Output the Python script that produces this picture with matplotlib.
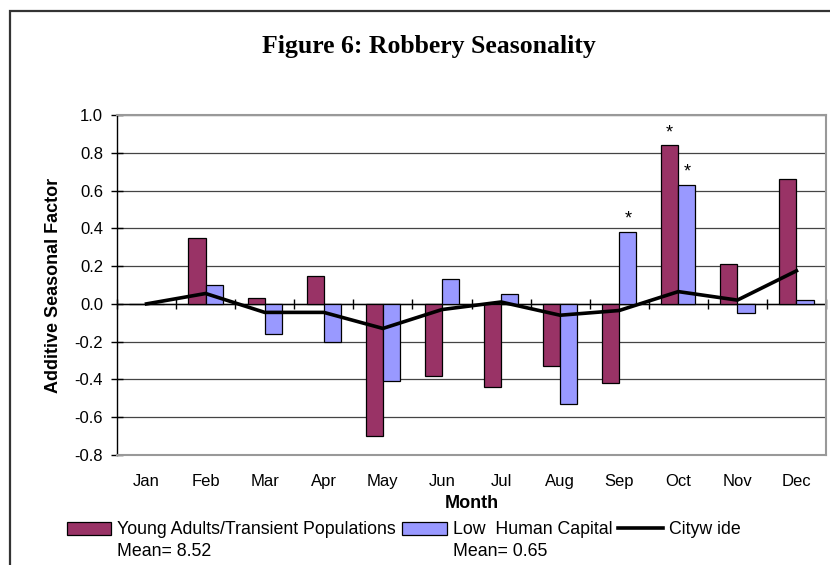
import numpy as np
import matplotlib
matplotlib.use('Agg')
from matplotlib import pyplot as plt
from matplotlib.patches import Patch, Rectangle
from matplotlib.lines import Line2D

plt.rcParams['font.family'] = ['Liberation Sans', 'DejaVu Sans']

months = ['Jan', 'Feb', 'Mar', 'Apr', 'May', 'Jun', 'Jul', 'Aug', 'Sep', 'Oct', 'Nov', 'Dec']
young_adults = [0.0, 0.35, 0.03, 0.15, -0.70, -0.38, -0.44, -0.33, -0.42, 0.84, 0.21, 0.66]
low_capital = [0.0, 0.10, -0.16, -0.20, -0.41, 0.13, 0.05, -0.53, 0.38, 0.63, -0.05, 0.02]
citywide = [0.0, 0.055, -0.045, -0.045, -0.13, -0.03, 0.01, -0.06, -0.035, 0.065, 0.02, 0.175]
yticks = [1.0, 0.8, 0.6, 0.4, 0.2, 0.0, -0.2, -0.4, -0.6, -0.8]
# (series, month index) pairs flagged with an asterisk
starred = [('low', 8), ('young', 9), ('low', 9)]
labels = ['Young Adults/Transient Populations', 'Low  Human Capital', 'Cityw ide']
means = ['Mean= 8.52', 'Mean= 0.65']

MAROON = '#993366'
BLUE = '#9999FF'
W = 830 / 100
H = 565 / 100

fig = plt.figure(figsize=(W, H), dpi=100)
ax = fig.add_axes([117 / 830, 1 - 455 / 565, (826 - 117) / 830, (455 - 115) / 565])

x = np.arange(len(months))
bw = 0.29
ax.bar(x - bw / 2, young_adults, bw, color=MAROON, edgecolor='black', linewidth=0.9, zorder=3)
ax.bar(x + bw / 2, low_capital, bw, color=BLUE, edgecolor='black', linewidth=0.9, zorder=3)
ax.plot(x, citywide, color='black', linewidth=2.6, zorder=4, solid_joinstyle='miter')

for series, i in starred:
    if series == 'young':
        xs, v = x[i] - bw / 2, young_adults[i]
    else:
        xs, v = x[i] + bw / 2, low_capital[i]
    ax.annotate('*', (xs, v), xytext=(0, 3), textcoords='offset points',
                ha='center', va='bottom', fontsize=13)

ymin, ymax = -0.8, 1.0
ax.set_ylim(ymin, ymax)
ax.set_xlim(-0.5, len(months) - 0.5)
ax.set_yticks(yticks)
ax.set_yticklabels(['%.1f' % v for v in yticks])
ax.set_xticks(x)
ax.set_xticklabels(months)
ax.tick_params(axis='x', length=0, pad=14, labelsize=12)
ax.tick_params(axis='y', direction='inout', length=8, width=1, pad=6, labelsize=12)

ax.grid(axis='y', color='#444444', linewidth=0.9, zorder=0)
ax.axhline(0, color='black', linewidth=1.0, zorder=2)
for s in ['top', 'right', 'bottom']:
    ax.spines[s].set_color('#999999')
    ax.spines[s].set_linewidth(1.5)
ax.spines['left'].set_color('black')
ax.spines['left'].set_linewidth(1.0)

# category boundary ticks on the zero line
sec = ax.secondary_xaxis((0 - ymin) / (ymax - ymin))
sec.set_xticks(np.arange(-0.5, len(months), 1.0))
sec.tick_params(direction='inout', length=7, width=1, labelbottom=False)
sec.spines['bottom'].set_visible(False)

ax.set_xlabel('Month', fontsize=13, fontweight='bold', labelpad=4)
ax.set_ylabel('Additive Seasonal Factor', fontsize=13, fontweight='bold', labelpad=9)

fig.text(429 / 830, 1 - 46 / 565, 'Figure 6: Robbery Seasonality', ha='center', va='center',
         fontsize=18.5, fontweight='bold', family=['Liberation Serif', 'DejaVu Serif'])

handles = [Patch(facecolor=MAROON, edgecolor='black', linewidth=0.9),
           Patch(facecolor=BLUE, edgecolor='black', linewidth=0.9),
           Line2D([0], [0], color='black', linewidth=2.6)]
leg = fig.legend(handles, labels, loc='center left', bbox_to_anchor=(67 / 830, 1 - 530 / 565),
                 ncol=3, frameon=False, borderpad=0, borderaxespad=0, fontsize=12.8,
                 handlelength=2.5, handleheight=0.8, handletextpad=0.33, columnspacing=0.35)

fig.canvas.draw()
r = fig.canvas.get_renderer()
for t, m in zip(leg.get_texts()[:2], means):
    bb = t.get_window_extent(r)
    fig.text(bb.x0 / fig.bbox.width, 1 - 552 / 565, m, ha='left', va='center', fontsize=12.8)

# outer chart frame (cropped at right and bottom)
fig.patches.append(Rectangle((10 / 830, -0.1), 1.2, 1.1 - 11 / 565, transform=fig.transFigure,
                             fill=False, edgecolor='#333333', linewidth=1.6))

fig.savefig('out.png', dpi=100)
